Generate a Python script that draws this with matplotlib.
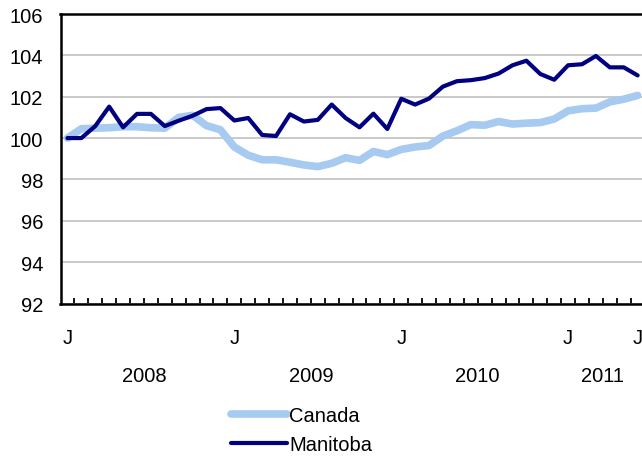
import numpy as np
import matplotlib
matplotlib.use('Agg')
import matplotlib.pyplot as plt

plt.rcParams['font.family'] = ['Liberation Sans', 'DejaVu Sans']

# Monthly index, Jan 2008 = 100 (Jan 2008 .. Jun 2011)
canada = [100.0, 100.45, 100.48, 100.5, 100.55, 100.55, 100.5, 100.48, 101.0, 101.1,
          100.6, 100.4, 99.57, 99.17, 98.95, 98.95, 98.83, 98.7, 98.62, 98.78,
          99.05, 98.92, 99.35, 99.2, 99.45, 99.57, 99.64, 100.1, 100.35, 100.65,
          100.62, 100.8, 100.68, 100.72, 100.75, 100.92, 101.32, 101.42, 101.45, 101.75,
          101.88, 102.06]
manitoba = [100.0, 100.0, 100.58, 101.52, 100.52, 101.17, 101.17, 100.58, 100.84, 101.08,
            101.4, 101.45, 100.85, 100.97, 100.15, 100.1, 101.15, 100.8, 100.88, 101.62,
            100.97, 100.52, 101.18, 100.44, 101.9, 101.62, 101.91, 102.49, 102.75, 102.8,
            102.9, 103.12, 103.52, 103.74, 103.1, 102.82, 103.52, 103.57, 103.97, 103.42,
            103.42, 103.03]
month_labels = {0: 'J', 12: 'J', 24: 'J', 36: 'J', 41: 'J'}
year_labels = {5.5: '2008', 17.5: '2009', 29.5: '2010', 38.5: '2011'}

x = np.arange(len(canada))
fs = 14.5

fig = plt.figure(figsize=(6.42, 4.6), dpi=100)
ax = fig.add_axes([60.5 / 642, (460 - 304.5) / 460, 584.1 / 642, 289.5 / 460])

ax.plot(x, canada, color='#a6caf0', lw=5.5, solid_capstyle='round',
        solid_joinstyle='round', label='Canada', zorder=3)
ax.plot(x, manitoba, color='#000080', lw=3, solid_capstyle='round',
        solid_joinstyle='round', label='Manitoba', zorder=4)

ax.set_xlim(-0.5, len(x) - 0.5)
ax.set_ylim(92, 106)
ax.set_yticks(np.arange(92, 107, 2))
ax.yaxis.grid(True, color='#c0c0c0', lw=1.2)
ax.set_axisbelow(True)

ax.set_xticks(np.arange(0.5, len(x) - 1, 1))
ax.set_xticklabels([])
ax.tick_params(axis='x', direction='in', length=4, width=1.3, color='black')
ax.tick_params(axis='y', length=0, pad=12.5, labelsize=fs)
for s in ax.spines.values():
    s.set_linewidth(1.8)

for i, t in month_labels.items():
    ax.text(i, -0.116, t, transform=ax.get_xaxis_transform(), ha='center', va='center', fontsize=fs)
for i, t in year_labels.items():
    ax.text(i, -0.25, t, transform=ax.get_xaxis_transform(), ha='center', va='center', fontsize=fs)

fig.legend(loc='upper left', bbox_to_anchor=(231 / 642, 1 - 407 / 460), frameon=False,
           fontsize=fs, handlelength=2.8, handletextpad=0.1, labelspacing=0.5,
           borderpad=0, borderaxespad=0)

fig.savefig('out.png', dpi=100)
